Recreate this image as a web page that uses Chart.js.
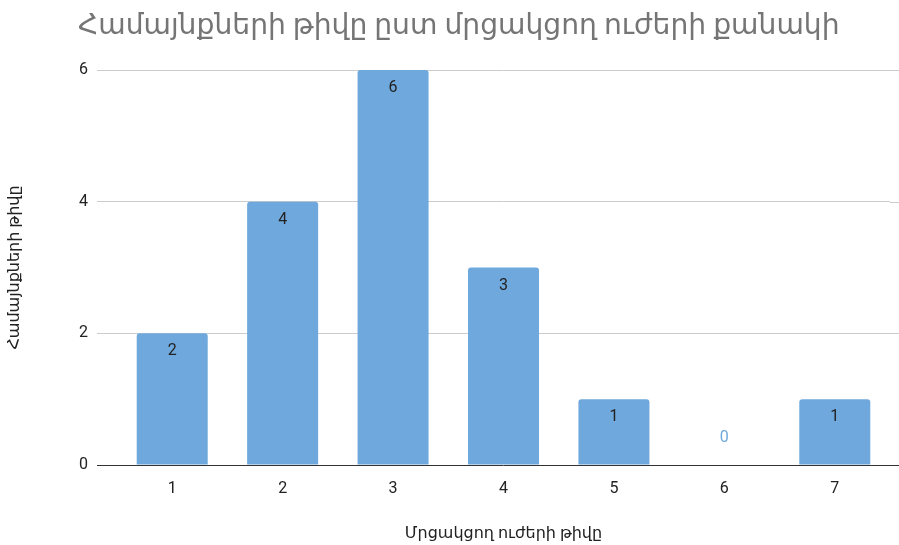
<!DOCTYPE html>
<html>
<head>
<meta charset="utf-8">
<script src="https://cdn.jsdelivr.net/npm/chart.js@4/dist/chart.umd.min.js"></script>
<style>
  html, body { margin: 0; padding: 0; background: #fff; }
  #wrap { width: 899px; height: 545px; }
</style>
</head>
<body>
<div id="wrap"><canvas id="chart" width="899" height="545"></canvas></div>
<script>
const chartTitle = "Համայնքների թիվը ըստ մրցակցող ուժերի քանակի";
const xTitle = "Մրցակցող ուժերի թիվը";
const yTitle = "Համայնքների թիվը";
const categories = ["1", "2", "3", "4", "5", "6", "7"];
const counts = [2, 4, 6, 3, 1, 0, 1];
const yTicks = [0, 2, 4, 6];

const FONT = "Roboto, 'Noto Sans', 'DejaVu Sans', sans-serif";
const BAR_COLOR = "#6fa8dc";

// title drawn at the left, like Sheets does it
const titlePlugin = {
    id: "sheetTitle",
    afterDraw(chart) {
        const ctx = chart.ctx;
        ctx.save();
        ctx.font = "28.2px " + FONT;
        ctx.fillStyle = "#757575";
        ctx.textAlign = "left";
        ctx.textBaseline = "middle";
        ctx.fillText(chartTitle, 78, 27);
        ctx.restore();
    }
};

// gridlines run on to the right edge of the canvas
const gridExtend = {
    id: "gridExtend",
    beforeDatasetsDraw(chart) {
        const { ctx, chartArea, scales: { y } } = chart;
        ctx.save();
        y.ticks.forEach(t => {
            const py = Math.round(y.getPixelForValue(t.value)) + 0.5;
            ctx.strokeStyle = t.value === 0 ? "#333333" : "#cccccc";
            ctx.lineWidth = 1;
            ctx.beginPath();
            ctx.moveTo(chartArea.right, py);
            ctx.lineTo(chart.width, py);
            ctx.stroke();
        });
        ctx.restore();
    }
};

// value labels inside the top of each bar
const valueLabels = {
    id: "valueLabels",
    afterDatasetsDraw(chart) {
        const ctx = chart.ctx;
        const meta = chart.getDatasetMeta(0);
        ctx.save();
        ctx.font = "16px " + FONT;
        ctx.textAlign = "center";
        ctx.textBaseline = "middle";
        meta.data.forEach((bar, i) => {
            const v = counts[i];
            if (v === 0) {
                ctx.fillStyle = BAR_COLOR;
                ctx.fillText(String(v), bar.x, bar.y - 27);
            } else {
                ctx.fillStyle = "#222222";
                ctx.fillText(String(v), bar.x, bar.y + 18);
            }
        });
        ctx.restore();
    }
};

new Chart(document.getElementById("chart").getContext("2d"), {
    type: "bar",
    data: {
        labels: categories,
        datasets: [{
            data: counts,
            backgroundColor: BAR_COLOR,
            borderRadius: { topLeft: 3, topRight: 3 },
            borderSkipped: "start",
            categoryPercentage: 1,
            barPercentage: 0.643
        }]
    },
    options: {
        responsive: false,
        animation: false,
        layout: { padding: { top: 70, right: 9, left: 0, bottom: 0 } },
        plugins: {
            legend: { display: false },
            tooltip: { enabled: false }
        },
        scales: {
            x: {
                grid: { display: false },
                border: { display: false },
                ticks: { color: "#222222", font: { family: FONT, size: 16 }, padding: 6 },
                title: {
                    display: true,
                    text: xTitle,
                    color: "#222222",
                    font: { family: FONT, size: 16 },
                    padding: { top: 0, bottom: 1 }
                },
                afterFit(scale) { scale.height = 80; }
            },
            y: {
                min: 0,
                max: 6,
                afterBuildTicks(scale) { scale.ticks = yTicks.map(v => ({ value: v })); },
                grid: {
                    color: ctx => ctx.tick && ctx.tick.value === 0 ? "#333333" : "#cccccc",
                    tickLength: 20,
                    drawTicks: true
                },
                border: { display: false },
                ticks: { color: "#222222", font: { family: FONT, size: 16 }, padding: 9 },
                title: {
                    display: true,
                    text: yTitle,
                    color: "#222222",
                    font: { family: FONT, size: 16 },
                    padding: { top: 5, bottom: 0 }
                },
                afterFit(scale) { scale.width = 117; }
            }
        }
    },
    plugins: [titlePlugin, gridExtend, valueLabels]
});
</script>
</body>
</html>
